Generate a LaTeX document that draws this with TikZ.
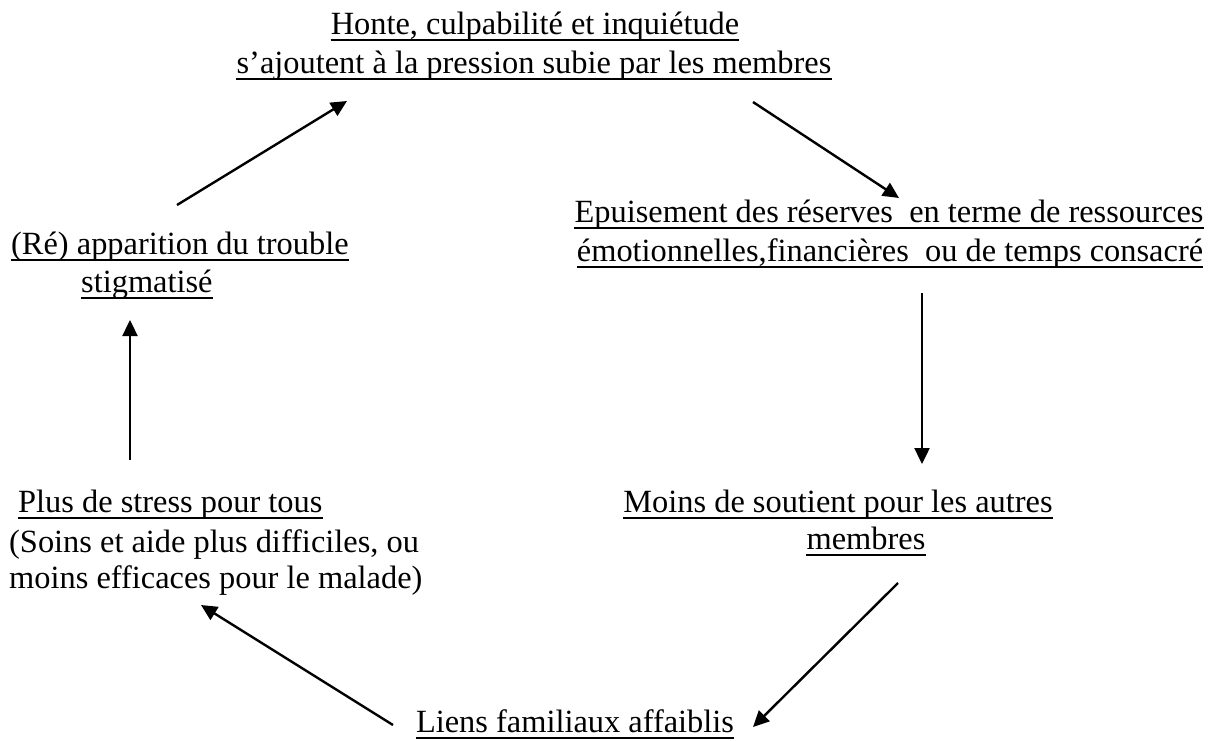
\documentclass[tikz,border=0pt]{standalone}
\usepackage{fontspec}
\setmainfont{Liberation Serif}
\usetikzlibrary{arrows.meta}
\newcommand\underthis[1]{\draw[ulline] ([yshift=-6.3pt]#1.base west) -- ([yshift=-6.3pt]#1.base east);}
\begin{document}
\begin{tikzpicture}[x=1pt,y=-1pt,
  txt/.style={inner sep=0pt, font=\fontsize{32.4}{38}\selectfont},
  ulline/.style={line width=2.1pt},
  arr/.style={line width=2.4pt, -{Triangle[length=16pt,width=15pt]}}]
\useasboundingbox (0,0) rectangle (1213,740);
% texts
\node[txt,anchor=base] (h1) at (535,34) {Honte, culpabilité et inquiétude};
\node[txt,anchor=base] (h2) at (534,73) {s’ajoutent à la pression subie par les membres};
\node[txt,anchor=base] (e1) at (889,222) {Epuisement des réserves\ \ en terme de ressources};
\node[txt,anchor=base] (e2) at (890,261) {émotionnelles,financières\ \ ou de temps consacré};
\node[txt,anchor=base west] (r1) at (11,254) {(Ré) apparition du trouble};
\node[txt,anchor=base west] (r2) at (81,292) {stigmatisé};
\node[txt,anchor=base west] (p1) at (18,512) {Plus de stress pour tous};
\node[txt,anchor=base west] (p2) at (9,552) {(Soins et aide plus difficiles, ou};
\node[txt,anchor=base west] (p3) at (9,588) {moins efficaces pour le malade)};
\node[txt,anchor=base] (m1) at (838,512) {Moins de soutient pour les autres};
\node[txt,anchor=base] (m2) at (866,549) {membres};
\node[txt,anchor=base] (l1) at (575,732) {Liens familiaux affaiblis};
% underlines
\underthis{h1}\underthis{h2}\underthis{e1}\underthis{e2}
\underthis{r1}\underthis{r2}\underthis{p1}\underthis{m1}\underthis{m2}\underthis{l1}
% arrow end points
\coordinate (a1s) at (177,205); \coordinate (a1e) at (347,101);
\coordinate (a2s) at (753,102); \coordinate (a2e) at (899,198);
\coordinate (a3s) at (922,293); \coordinate (a3e) at (922,464);
\coordinate (a4s) at (898,583); \coordinate (a4e) at (753,727);
\coordinate (a5s) at (393,725); \coordinate (a5e) at (201,605);
\coordinate (a6s) at (130,460); \coordinate (a6e) at (130,320);
\draw[arr] (a1s) -- (a1e);
\draw[arr] (a2s) -- (a2e);
\draw[arr] (a3s) -- (a3e);
\draw[arr] (a4s) -- (a4e);
\draw[arr] (a5s) -- (a5e);
\draw[arr] (a6s) -- (a6e);
\end{tikzpicture}
\end{document}
